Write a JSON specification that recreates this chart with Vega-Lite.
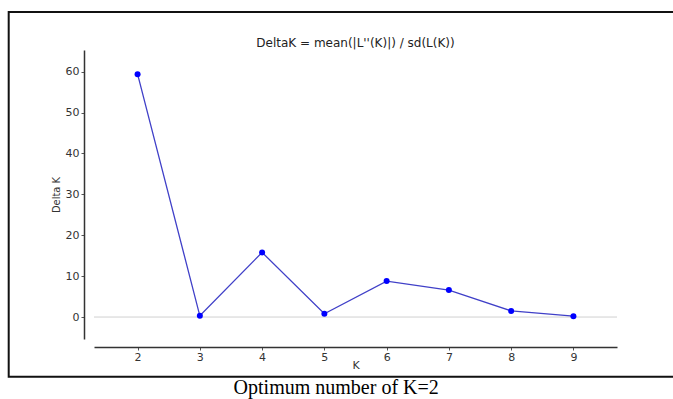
{
  "$schema": "https://vega.github.io/schema/vega-lite/v6.json",
  "width": 523,
  "height": 289,
  "autosize": {"type": "none"},
  "padding": {"left": 94, "right": 56, "top": 50, "bottom": 60},
  "background": "white",
  "config": {"view": {"stroke": null}},
  "title": {
    "text": "DeltaK = mean(|L''(K)|) / sd(L(K))",
    "font": "DejaVu Sans",
    "fontSize": 12,
    "fontWeight": "normal",
    "color": "#222222",
    "anchor": "middle",
    "frame": "group",
    "offset": -39
  },
  "data": {
    "values": [
      {"K": 2, "DeltaK": 59.4},
      {"K": 3, "DeltaK": 0.3},
      {"K": 4, "DeltaK": 15.8},
      {"K": 5, "DeltaK": 0.8},
      {"K": 6, "DeltaK": 8.8},
      {"K": 7, "DeltaK": 6.6},
      {"K": 8, "DeltaK": 1.5},
      {"K": 9, "DeltaK": 0.2}
    ]
  },
  "layer": [
    {
      "data": {"values": [{}]},
      "mark": {"type": "rect", "fill": null, "stroke": "#111111", "strokeWidth": 2, "clip": false},
      "encoding": {
        "x": {
          "datum": -0.07,
          "type": "quantitative",
          "scale": {"domain": [1.3, 9.7], "nice": false, "zero": false},
          "axis": {
            "values": [2, 3, 4, 5, 6, 7, 8, 9],
            "format": "d",
            "offset": 8,
            "grid": false,
            "domainColor": "#333333",
            "domainWidth": 1.5,
            "tickColor": "#555555",
            "tickSize": 3,
            "labelFont": "DejaVu Sans",
            "labelFontSize": 11,
            "labelColor": "#333333",
            "labelPadding": 1,
            "title": "K",
            "titleFont": "DejaVu Sans",
            "titleFontSize": 11,
            "titleFontWeight": "normal",
            "titleColor": "#333333",
            "titlePadding": -3
          }
        },
        "x2": {"datum": 10.8},
        "y": {
          "datum": -14.6,
          "type": "quantitative",
          "scale": {"domain": [-5.37, 65.3], "nice": false, "zero": false},
          "axis": {
            "values": [0, 10, 20, 30, 40, 50, 60],
            "format": "d",
            "offset": 10,
            "grid": false,
            "domainColor": "#333333",
            "domainWidth": 1.5,
            "tickColor": "#555555",
            "tickSize": 3,
            "labelFont": "DejaVu Sans",
            "labelFontSize": 11,
            "labelColor": "#333333",
            "labelPadding": 2,
            "title": "Delta K",
            "titleFont": "DejaVu Sans Condensed",
            "titleFontSize": 11,
            "titleFontWeight": "normal",
            "titleColor": "#333333",
            "titlePadding": 4
          }
        },
        "y2": {"datum": 74.6}
      }
    },
    {
      "data": {"values": [{}]},
      "mark": {"type": "rule", "color": "#d0d0d0", "strokeWidth": 1},
      "encoding": {"y": {"datum": 0, "type": "quantitative"}}
    },
    {
      "mark": {"type": "line", "color": "#4040c8", "strokeWidth": 1.3},
      "encoding": {
        "x": {"field": "K", "type": "quantitative"},
        "y": {"field": "DeltaK", "type": "quantitative"}
      }
    },
    {
      "mark": {"type": "point", "filled": true, "color": "#0000ff", "opacity": 1, "size": 36},
      "encoding": {
        "x": {"field": "K", "type": "quantitative"},
        "y": {"field": "DeltaK", "type": "quantitative"}
      }
    },
    {
      "data": {"values": [{}]},
      "mark": {"type": "text", "font": "Liberation Serif", "fontSize": 20, "color": "#000000", "align": "center", "baseline": "middle", "clip": false, "text": "Optimum number of K=2"},
      "encoding": {
        "x": {"datum": 5.19, "type": "quantitative"},
        "y": {"datum": -17.3, "type": "quantitative"}
      }
    }
  ]
}
